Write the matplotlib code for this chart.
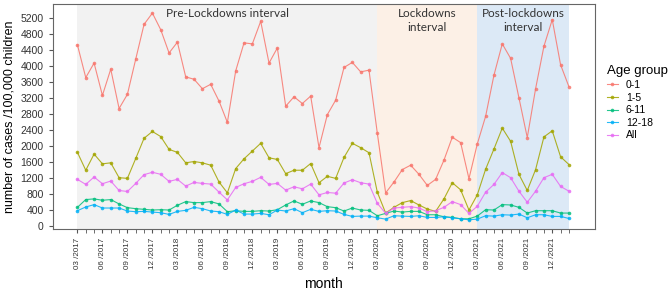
import matplotlib
matplotlib.use("Agg")
from matplotlib import pyplot as plt
import numpy as np

# months 03/2017 .. 02/2022
months = ["%02d /%d" % ((m - 1) % 12 + 1, 2017 + (m - 1) // 12) for m in range(3, 63)]

age_0_1 = [4526, 3709, 4071, 3263, 3919, 2936, 3290, 4172, 5039, 5320,
           4905, 4324, 4593, 3726, 3667, 3431, 3541, 3120, 2589, 3877,
           4576, 4551, 5115, 4071, 4450, 2994, 3229, 3061, 3246, 1958,
           2783, 3145, 3962, 4088, 3852, 3894, 2320, 829, 1099, 1411,
           1520, 1292, 1015, 1166, 1646, 2219, 2084, 1183, 2050, 2741,
           3768, 4551, 4189, 3204, 2210, 3431, 4492, 5157, 4029, 3482]
age_1_5 = [1840, 1394, 1798, 1554, 1579, 1208, 1191, 1688, 2193, 2362,
           2235, 1915, 1840, 1579, 1612, 1579, 1520, 1099, 829, 1436,
           1680, 1873, 2067, 1705, 1663, 1309, 1394, 1394, 1562, 1082,
           1242, 1191, 1713, 2067, 1958, 1831, 846, 324, 467, 585,
           636, 526, 425, 366, 678, 1082, 905, 400, 779, 1419,
           1924, 2446, 2117, 1292, 888, 1410, 2227, 2379, 1730, 1537]
age_6_11 = [467, 661, 678, 644, 661, 552, 459, 434, 417, 400,
            408, 400, 518, 610, 585, 585, 610, 552, 358, 383,
            366, 366, 383, 375, 408, 526, 627, 543, 627, 585,
            484, 459, 375, 450, 400, 392, 257, 316, 375, 349,
            366, 366, 282, 282, 232, 215, 181, 181, 248, 408,
            400, 535, 526, 467, 324, 383, 383, 383, 324, 324]
age_12_18 = [383, 476, 535, 450, 450, 450, 375, 358, 366, 349,
             333, 291, 366, 392, 467, 434, 375, 358, 291, 400,
             299, 299, 316, 282, 400, 375, 434, 333, 417, 366,
             383, 375, 291, 240, 248, 248, 206, 173, 257, 248,
             240, 257, 215, 215, 232, 206, 181, 156, 173, 257,
             248, 282, 274, 299, 206, 282, 282, 240, 240, 189]
age_all = [1166, 1040, 1225, 1057, 1124, 888, 863, 1065, 1284, 1343,
           1292, 1116, 1166, 998, 1090, 1065, 1048, 846, 653, 964,
           1057, 1116, 1217, 1040, 1065, 897, 981, 930, 1048, 779,
           838, 821, 1074, 1158, 1082, 1048, 568, 316, 450, 467,
           484, 450, 358, 383, 467, 610, 535, 316, 493, 846,
           1040, 1335, 1208, 871, 594, 871, 1208, 1292, 989, 871]

groups = ["0-1", "1-5", "6-11", "12-18", "All"]
series = [age_0_1, age_1_5, age_6_11, age_12_18, age_all]
colors = ["#F8766D", "#A3A500", "#00BF7D", "#00B0F6", "#E76BF3"]

# interval boundaries (index into months)
intervals = [(0, 36, "#F2F2F2", "Pre-Lockdowns interval"),
             (36, 48, "#FCF0E6", "Lockdowns\ninterval"),
             (48, 59, "#DCE9F6", "Post-lockdowns\ninterval")]

fig = plt.figure(figsize=(6.69, 2.99), dpi=100)
ax = fig.add_axes([0.079, 0.234, 0.81, 0.753])

x = np.arange(len(months))
for a, b, c, lab in intervals:
    ax.axvspan(a, b, color=c, lw=0, zorder=0)
    ax.text((a + b) / 2, 5440, lab, ha="center", va="top", fontsize=8.5,
            family="Lato", color="#333333", linespacing=1.3)

for name, vals, c in zip(groups, series, colors):
    ax.plot(x, vals, color=c, lw=0.8, marker="o", ms=2.6, mew=0,
            alpha=0.85, label=name, zorder=3)

ax.set_xlim(-2.95, 62.1)
ax.set_ylim(-75, 5550)
ax.set_yticks(np.arange(0, 5201, 400))
ax.set_xticks(x[::3])
ax.set_xticklabels(months[::3], rotation=90, fontsize=5.8, color="#333333",
                   family="Liberation Sans")
ax.set_xticks(x, minor=True)
ax.tick_params(axis="y", labelsize=7.5, labelcolor="#333333", length=3,
               color="#555555")
ax.tick_params(axis="x", which="both", length=3, color="#555555", pad=3.5)
for lab in ax.get_yticklabels():
    lab.set_family("Liberation Sans")
for s in ax.spines.values():
    s.set_color("#666666")
    s.set_linewidth(0.8)

ax.set_ylabel("number of cases /100,000 children", fontsize=9,
              family="Liberation Sans", labelpad=4)
ax.set_xlabel("month", fontsize=10, family="Liberation Sans")
ax.xaxis.set_label_coords(0.5, -0.215)

leg = ax.legend(title="Age group", loc="center left",
                bbox_to_anchor=(1.0, 0.56), frameon=False,
                handlelength=1.0, handletextpad=0.8,
                labelspacing=0.25, alignment="left", borderaxespad=0.8,
                prop={"family": "Liberation Sans", "size": 7.5})
leg.get_title().set_family("Liberation Sans")
leg.get_title().set_fontsize(9.5)

fig.savefig("out.png", dpi=100)
